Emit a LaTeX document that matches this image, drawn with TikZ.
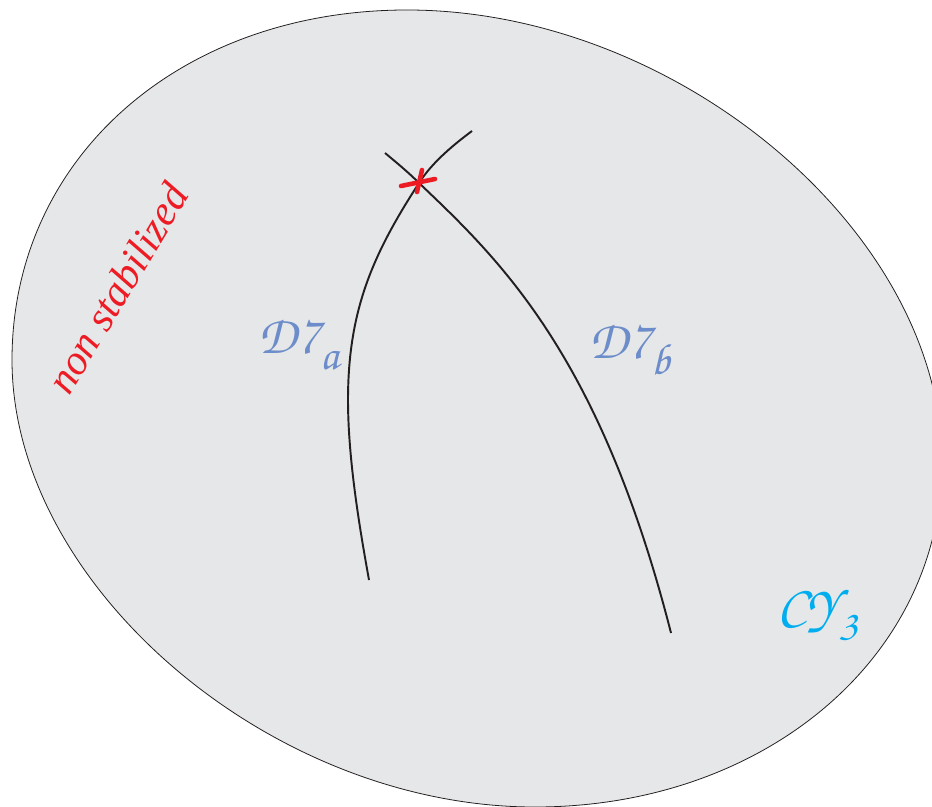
\documentclass[tikz,border=0pt]{standalone}
\usepackage[T1]{fontenc}
\usepackage{fontspec}
\newfontfamily\stabfont{Liberation Serif}
\usetikzlibrary{positioning}
\definecolor{blobgray}{HTML}{E6E7E8}
\definecolor{inkred}{HTML}{ED1C24}
\definecolor{braneblue}{HTML}{6C8DCA}
\definecolor{cycyan}{HTML}{00AEEF}
\definecolor{inkline}{HTML}{231F20}
\newcommand{\chancery}{\usefont{T1}{pzc}{mb}{it}}
\newcommand{\lowsub}[1]{\raisebox{-0.3em}{\fontsize{25}{25}\selectfont #1}}

\begin{document}
\begin{tikzpicture}[
  x=0.02cm, y=-0.02cm,
  blob/.style={fill=blobgray, draw=inkline, line width=0.45pt},
  brane/.style={draw=inkline, line width=1.1pt},
  hitmark/.style={draw=inkred, line width=2.6pt, line cap=round},
  branelabel/.style={text=braneblue, anchor=base west, inner sep=0pt, font=\chancery\fontsize{31}{36}\selectfont},
  cylabel/.style={text=cycyan, anchor=base west, inner sep=0pt, font=\chancery\fontsize{32}{36}\selectfont},
  stablabel/.style={text=inkred, anchor=base west, inner sep=0pt, rotate=59, font=\stabfont\itshape\fontsize{24}{28}\selectfont}
]
  \useasboundingbox (0,0) rectangle (932,807);
  % the Calabi-Yau blob
  \coordinate (bTopEdge) at (407,10);
  \coordinate (bRight) at (942,462);
  \coordinate (bBottom) at (535,807);
  \coordinate (bLeft) at (12,360);
  \draw[blob] (bTopEdge) .. controls (677,10) and (942,232) .. (bRight)
    .. controls (942,657) and (765,807) .. (bBottom)
    .. controls (270,807) and (12,585) .. (bLeft)
    .. controls (12,158) and (180,10) .. (bTopEdge) -- cycle;

  \coordinate (hit) at (419,183);
  \coordinate (aTop) at (472,131);
  \coordinate (aMid) at (348,400);
  \coordinate (aBot) at (369,580);
  \coordinate (bTop) at (385,153);
  \coordinate (bBot) at (671,633);

  \draw[brane] (aBot) .. controls (360,530) and (348,460) .. (aMid)
    .. controls (348,310) and (373,254) .. (hit)
    .. controls (433,161) and (456,143) .. (aTop);
  \draw[brane] (bTop) .. controls (397,163) and (408,172) .. (hit) .. controls (500,260) and (600,355) .. (bBot);

  \draw[hitmark] ([shift={(-18,3)}]hit) -- ([shift={(16,-4)}]hit);
  \draw[hitmark] ([shift={(3,-13)}]hit) -- ([shift={(-2,9)}]hit);

  \node[branelabel] (d7a) at (258,353) {D7\lowsub{a}};
  \node[branelabel] (d7b) at (589,358) {D7\lowsub{b}};
  \node[cylabel] (cy3) at (777,624) {CY\lowsub{3}};
  \node[stablabel] (nonstab) at (69,397) {non stabilized};
\end{tikzpicture}
\end{document}
